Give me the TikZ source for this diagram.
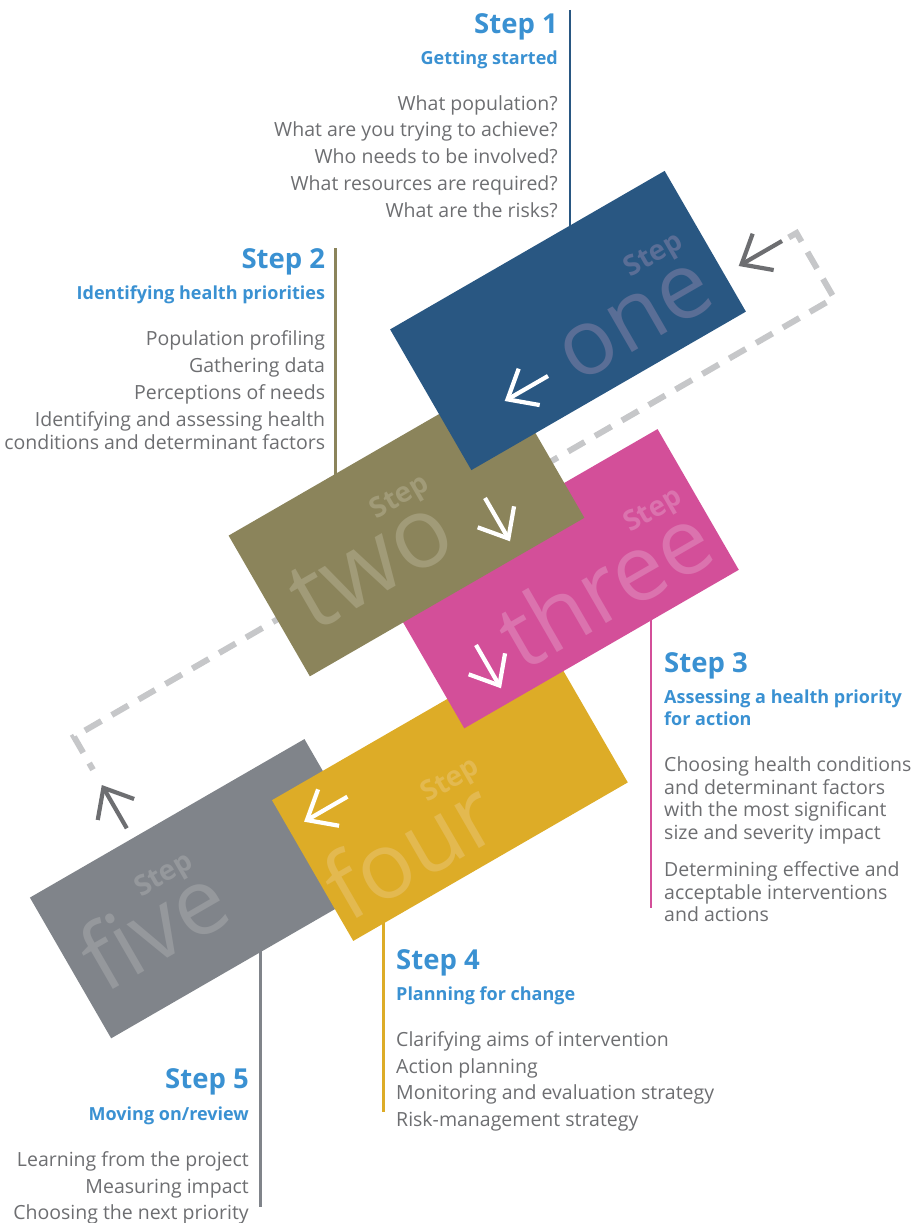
\documentclass[tikz,border=0pt]{standalone}
\usepackage{fontspec}
\setmainfont{Open Sans}
\usetikzlibrary{arrows.meta}

\definecolor{cone}{HTML}{295782}
\definecolor{ctwo}{HTML}{8B845B}
\definecolor{cthree}{HTML}{D34F99}
\definecolor{cfour}{HTML}{DDAC27}
\definecolor{cfive}{HTML}{80848A}
\definecolor{tone}{HTML}{5A6E96}
\definecolor{ttwo}{HTML}{A19B78}
\definecolor{tthree}{HTML}{DB73AE}
\definecolor{tfour}{HTML}{E3B950}
\definecolor{tfive}{HTML}{95989C}
\definecolor{headblue}{HTML}{3A91D2}
\definecolor{bodygrey}{HTML}{6D6E71}
\definecolor{dashgrey}{HTML}{C6C7C9}
\definecolor{arrowgrey}{HTML}{6D6E71}

\begin{document}
\begin{tikzpicture}[x=1pt,y=-1pt,
  card/.style={minimum width=317pt, minimum height=162.5pt, inner sep=0pt, outer sep=0pt, draw=none},
  bigword/.style={font=\fontsize{92}{92}\selectfont, inner sep=0pt, anchor=base east},
  stepword/.style={font=\bfseries\fontsize{28}{28}\selectfont, inner sep=0pt, anchor=base east},
  head/.style={text=headblue, font=\bfseries\fontsize{27.5}{30}\selectfont, inner sep=0pt},
  sub/.style={text=headblue, font=\bfseries\fontsize{18}{22}\selectfont, inner sep=0pt},
  body/.style={text=bodygrey, font=\fontsize{19.5}{26}\selectfont, inner sep=0pt},
  vline/.style={line width=2.6pt},
  warrow/.style={draw=white, line width=4.2pt, -{Straight Barb[length=25pt,width=42pt]}},
  garrow/.style={draw=arrowgrey, line width=4.2pt, -{Straight Barb[length=25pt,width=42pt]}},
  dashline/.style={draw=dashgrey, line width=6pt, dash pattern=on 19pt off 12pt}
]
\useasboundingbox (0,0) rectangle (913,1223);

% dashed return loop
\coordinate (d0) at (788.7,237.5);
\coordinate (d1) at (796.5,233);
\coordinate (d2) at (834,298);
\coordinate (d3) at (74,736.8);
\coordinate (d4) at (93,769.7);
\draw[dashline] (d0) -- (d1) -- (d2) -- (d3) -- (d4);

% vertical rules
\coordinate (l1a) at (570,10);    \coordinate (l1b) at (570,240);
\coordinate (l2a) at (335.6,248); \coordinate (l2b) at (335.6,485);
\coordinate (l3a) at (651,600);   \coordinate (l3b) at (651,908);
\coordinate (l4a) at (383.4,910); \coordinate (l4b) at (383.4,1111.7);
\coordinate (l5a) at (260.3,940); \coordinate (l5b) at (260.3,1206.7);
\draw[vline, draw=cone] (l1a) -- (l1b);
\draw[vline, draw=ctwo] (l2a) -- (l2b);
\draw[vline, draw=cthree] (l3a) -- (l3b);
\draw[vline, draw=cfour] (l4a) -- (l4b);
\draw[vline, draw=cfive] (l5a) -- (l5b);

% cards
\begin{scope}[shift={(207.8,888.7)}, rotate=30, transform shape]
  \node[card, fill=cfive] (five) at (0,0) {};
  \node[bigword, text=tfive] (fivew) at (10,40) {five};
  \node[stepword, text=tfive] (fives) at (0,-26) {Step};
\end{scope}
\begin{scope}[shift={(449.9,791.3)}, rotate=30, transform shape]
  \node[card, fill=cfour] (four) at (0,0) {};
  \node[bigword, text=tfour] (fourw) at (27,64) {four};
  \node[stepword, text=tfour] (fours) at (37,-1) {Step};
\end{scope}
\begin{scope}[shift={(560.9,578.7)}, rotate=30, transform shape]
  \node[card, fill=cthree] (three) at (0,0) {};
  \node[bigword, text=tthree] (threew) at (148,62) {three};
  \node[stepword, text=tthree] (threes) at (145,-5) {Step};
\end{scope}
\begin{scope}[shift={(406.5,526.7)}, rotate=30, transform shape]
  \node[card, fill=ctwo] (two) at (0,0) {};
  \node[bigword, text=ttwo, font=\fontsize{98}{98}\selectfont] (twow) at (36,46) {two};
  \node[stepword, text=ttwo] (twos) at (40,-21) {Step};
\end{scope}
\begin{scope}[shift={(568,320.5)}, rotate=30, transform shape]
  \node[card, fill=cone] (one) at (0,0) {};
  \node[bigword, text=tone] (onew) at (140,60) {one};
  \node[stepword, text=tone] (ones) at (138,-6) {Step};
\end{scope}

% arrows
\coordinate (a1t) at (548,376);     \coordinate (a1h) at (504.7,401);
\coordinate (a2t) at (485,498);     \coordinate (a2h) at (510,541.3);
\coordinate (a3t) at (476,645);     \coordinate (a3h) at (501,688.3);
\coordinate (a4t) at (347.4,796.7); \coordinate (a4h) at (304.1,821.7);
\coordinate (a5t) at (782,241);     \coordinate (a5h) at (738.7,266);
\coordinate (a6t) at (126.8,828.3); \coordinate (a6h) at (101.8,785);
\draw[warrow] (a1t) -- (a1h);
\draw[warrow] (a2t) -- (a2h);
\draw[warrow] (a3t) -- (a3h);
\draw[warrow] (a4t) -- (a4h);
\draw[garrow] (a5t) -- (a5h);
\draw[garrow] (a6t) -- (a6h);

% Step 1
\node[head, anchor=base east] (h1) at (558,33.3) {Step 1};
\node[sub, anchor=base east] (s1) at (558,64) {Getting started};
\foreach \t/\y [count=\i] in {What population?/110, What are you trying to achieve?/136.75, Who needs to be involved?/163.5, What resources are required?/190.25, What are the risks?/217}
  \node[body, anchor=base east] (b1\i) at (558,\y) {\t};

% Step 2
\node[head, anchor=base east] (h2) at (325.3,268) {Step 2};
\node[sub, anchor=base east] (s2) at (325.3,299) {Identifying health priorities};
\foreach \t/\y [count=\i] in {Population profiling/345.7, Gathering data/372.3, Perceptions of needs/399, Identifying and assessing health/426, conditions and determinant factors/449}
  \node[body, anchor=base east] (b2\i) at (325.3,\y) {\t};

% Step 3
\node[head, anchor=base west] (h3) at (664,672.3) {Step 3};
\node[sub, anchor=base west] (s3a) at (664,703.3) {Assessing a health priority};
\node[sub, anchor=base west] (s3b) at (664,725) {for action};
\foreach \t/\y [count=\i] in {Choosing health conditions/771.7, and determinant factors/794, with the most significant/816.7, size and severity impact/839.3, Determining effective and/876.7, acceptable interventions/899.3, and actions/921.7}
  \node[body, anchor=base west] (b3\i) at (664,\y) {\t};

% Step 4
\node[head, anchor=base west] (h4) at (396,969.3) {Step 4};
\node[sub, anchor=base west] (s4) at (396,1000) {Planning for change};
\foreach \t/\y [count=\i] in {Clarifying aims of intervention/1046, Action planning/1073.3, Monitoring and evaluation strategy/1099.3, Risk-management strategy/1126}
  \node[body, anchor=base west] (b4\i) at (396,\y) {\t};

% Step 5
\node[head, anchor=base east] (h5) at (249,1088.3) {Step 5};
\node[sub, anchor=base east] (s5) at (249,1120) {Moving on/review};
\foreach \t/\y [count=\i] in {Learning from the project/1166.7, Measuring impact/1193.3, Choosing the next priority/1219.3}
  \node[body, anchor=base east] (b5\i) at (249,\y) {\t};

\end{tikzpicture}
\end{document}
